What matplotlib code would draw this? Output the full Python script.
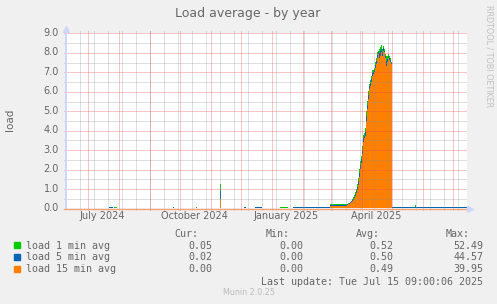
import numpy as np
import pandas as pd
import matplotlib
matplotlib.use("Agg")
import matplotlib.pyplot as plt
import matplotlib.dates as mdates
import matplotlib.transforms as mtransforms
from matplotlib.lines import Line2D

title = "Load average - by year"
ylabel = "load"
names = ["load 1 min avg", "load 5 min avg", "load 15 min avg"]
colors = ["#00CC00", "#0066B3", "#FF8000"]

t_start = pd.Timestamp("2024-06-10 09:00:06")
t_end = pd.Timestamp("2025-07-15 09:00:06")

# quiet months: each value holds until the next date
quiet_dates = ["2024-06-10", "2024-07-22", "2024-07-26", "2024-07-27", "2024-07-30",
               "2024-09-24", "2024-09-25", "2024-10-17", "2024-10-18",
               "2024-11-10 12:00", "2024-11-11 12:00", "2024-12-04", "2024-12-06",
               "2024-12-15", "2024-12-22", "2025-01-09", "2025-01-17",
               "2025-01-22", "2025-02-03", "2025-02-28"]
quiet_load1 = [0.00, 0.06, 0.00, 0.04, 0.00, 0.05, 0.00, 0.04, 0.00, 1.25,
               0.00, 0.05, 0.00, 0.06, 0.00, 0.04, 0.00, 0.05, 0.04, 0.20]
quiet_load5 = [0.00, 0.04, 0.00, 0.02, 0.00, 0.05, 0.00, 0.02, 0.00, 0.85,
               0.00, 0.06, 0.00, 0.03, 0.00, 0.02, 0.00, 0.04, 0.05, 0.17]
quiet_load15 = [0.00, 0.01, 0.00, 0.01, 0.00, 0.01, 0.00, 0.00, 0.00, 0.45,
                0.00, 0.01, 0.00, 0.01, 0.00, 0.00, 0.00, 0.01, 0.02, 0.12]

# busy period, one value per day from ramp_start
ramp_start = "2025-03-17"
ramp_load1 = [0.22, 0.25, 0.28, 0.33, 0.38, 0.45, 0.55, 0.66, 0.80, 1.00,
              1.25, 1.55, 2.00, 2.40, 2.70, 3.20, 3.75, 3.85, 4.10, 5.00,
              5.50, 6.00, 6.40, 6.60, 6.80, 7.10, 7.10, 7.20, 7.50, 7.70,
              8.00, 8.10, 8.20, 8.30, 8.40, 8.20, 8.35, 8.20, 7.90, 7.80,
              7.80, 7.90, 7.80, 7.70, 7.50]
ramp_load5 = [0.20, 0.22, 0.25, 0.29, 0.34, 0.40, 0.48, 0.57, 0.70, 0.88,
              1.10, 1.38, 1.80, 2.20, 2.50, 3.00, 3.58, 3.72, 3.90, 4.75,
              5.30, 5.80, 6.25, 6.45, 6.65, 6.95, 7.00, 7.10, 7.35, 7.55,
              7.85, 8.00, 7.95, 8.05, 8.20, 8.00, 8.22, 8.10, 7.80, 7.55,
              7.65, 7.80, 7.70, 7.60, 7.45]
ramp_load15 = [0.18, 0.20, 0.22, 0.26, 0.30, 0.35, 0.42, 0.50, 0.60, 0.78,
               0.95, 1.20, 1.60, 2.00, 2.30, 2.80, 3.40, 3.60, 3.70, 4.50,
               5.10, 5.60, 6.10, 6.30, 6.50, 6.80, 6.90, 7.00, 7.20, 7.40,
               7.70, 7.90, 7.70, 7.80, 8.00, 7.80, 8.10, 8.00, 7.70, 7.30,
               7.50, 7.70, 7.60, 7.50, 7.40]

tail_dates = ["2025-05-01", "2025-05-24", "2025-05-25"]
tail_load1 = [0.05, 0.13, 0.05]
tail_load5 = [0.03, 0.06, 0.03]
tail_load15 = [0.01, 0.02, 0.01]

cur = ["0.05", "0.02", "0.00"]
mins = ["0.00", "0.00", "0.00"]
avgs = ["0.52", "0.50", "0.49"]
maxs = ["52.49", "44.57", "39.95"]
last_update = "Last update: Tue Jul 15 09:00:06 2025"

y_major = [1, 2, 3, 4, 5, 6, 7, 8, 9]
y_minor = [0.5, 1.5, 2.5, 3.5, 4.5, 5.5, 6.5, 7.5, 8.5]
y_labels = ["0.0", "1.0", "2.0", "3.0", "4.0", "5.0", "6.0", "7.0", "8.0", "9.0"]
x_labels = ["July 2024", "October 2024", "January 2025", "April 2025"]
x_label_pos = ["2024-07-15 12:00", "2024-10-15 12:00", "2025-01-15 12:00", "2025-04-15 12:00"]

# assemble step series
ramp_dates = list(pd.date_range(ramp_start, periods=len(ramp_load1), freq="D"))
x = (list(pd.to_datetime(quiet_dates, format="mixed")) + ramp_dates
     + list(pd.to_datetime(tail_dates, format="mixed")) + [t_end])
series = [quiet_load1 + ramp_load1 + tail_load1,
          quiet_load5 + ramp_load5 + tail_load5,
          quiet_load15 + ramp_load15 + tail_load15]
series = [s + [s[-1]] for s in series]

W, H = 497, 304
font_col = "#666666"
axis_col = "#CFD6F8"
grid_col = (0.55, 0.55, 0.55, 0.28)
mgrid_col = (0.90, 0.30, 0.30, 0.32)

fig = plt.figure(figsize=(W / 100, H / 100), dpi=100, facecolor="#F0F0F0")
ax = fig.add_axes([67 / W, 96 / H, 400 / W, 175 / H], facecolor="white")
ax.set_xlim(t_start, t_end)
ax.set_ylim(0, 9)
for s in ax.spines.values():
    s.set_visible(False)
ax.set_xticks([])
ax.set_yticks([])

for vals, c in zip(series, colors):
    ax.fill_between(x, 0, vals, step="post", color=c, linewidth=0, zorder=2)

# dotted grid snapped to pixels, drawn over the areas (pixel coords)
def px_x(d):
    return ax.transData.transform((mdates.date2num(pd.Timestamp(d).to_pydatetime()), 0))[0]

def grid_h(v, col):
    yp = np.floor(ax.transData.transform((0, v))[1]) + 0.5
    fig.add_artist(Line2D([64, 467], [yp, yp], transform=None, color=col, lw=0.72,
                          dashes=(1, 1), antialiased=False, zorder=5))

def grid_v(d, col):
    xp = np.floor(px_x(d)) + 0.5
    fig.add_artist(Line2D([xp, xp], [94, 274], transform=None, color=col, lw=0.72,
                          dashes=(1, 1), antialiased=False, zorder=5))

for yv in y_minor:
    grid_h(yv, grid_col)
for yv in y_major:
    grid_h(yv, mgrid_col)
for d in pd.date_range("2024-06-23", t_end, freq="14D"):
    grid_v(d, grid_col)
for d in pd.date_range("2024-07-01", t_end, freq="MS"):
    grid_v(d, mgrid_col)

# axes with arrows
fig.add_artist(Line2D([66, 66], [96, 274], transform=None, color=axis_col, lw=1.44, zorder=6))
fig.add_artist(Line2D([66], [275], transform=None, marker="^", ms=4.5, color=axis_col, lw=0, zorder=6))
fig.add_artist(Line2D([64, 468], [95.5, 95.5], transform=None, color="#F4A070", lw=0.9, zorder=6))
fig.add_artist(Line2D([470], [95.5], transform=None, marker=">", ms=4.5, color=axis_col, lw=0, zorder=6))

blend_y = mtransforms.blended_transform_factory(ax.transAxes, ax.transData)
blend_x = mtransforms.blended_transform_factory(ax.transData, ax.transAxes)
for i, lab in enumerate(y_labels):
    ax.text(-8 / 400, i, lab, transform=blend_y, ha="right", va="center", fontsize=7, color=font_col)
for pos, lab in zip(x_label_pos, x_labels):
    ax.text(pd.Timestamp(pos), -8 / 175, lab, transform=blend_x, ha="center", va="center", fontsize=7, color=font_col)

fig.text(248 / W, 1 - 13.5 / H, title, ha="center", va="center", fontsize=9, color=font_col)
fig.text(10 / W, 1 - 120 / H, ylabel, ha="center", va="center", rotation=90, fontsize=7.5, color=font_col)
fig.text(488.5 / W, 1 - 5 / H, "RRDTOOL / TOBI OETIKER", ha="center", va="top", rotation=270,
         fontsize=5.8, color="#C0C0C0")

# legend block
mono = dict(family="DejaVu Sans Mono", fontsize=7.2, color=font_col)
def fy(y):
    return 1 - y / H
for hx, h in zip([198.3, 289.3, 380, 470], ["Cur:", "Min:", "Avg:", "Max:"]):
    fig.text(hx / W, fy(234), h, ha="right", va="center", **mono)
rows_y = [245.7, 257.3, 269.3]
for i in range(3):
    fig.patches.append(plt.Rectangle((14 / W, fy(rows_y[i] + 2.5)), 6 / W, 6 / H,
                                     transform=fig.transFigure, color=colors[i], figure=fig))
    fig.text(26 / W, fy(rows_y[i]), names[i], ha="left", va="center", **mono)
    for cx, v in zip([212.3, 303.3, 393.3, 483.3], [cur[i], mins[i], avgs[i], maxs[i]]):
        fig.text(cx / W, fy(rows_y[i]), v, ha="right", va="center", **mono)
fig.text(483.3 / W, fy(281.7), last_update, ha="right", va="center", **mono)
fig.text(249 / W, fy(292.7), "Munin 2.0.25", ha="center", va="center", fontsize=5.8, color="#BBBBBB")

fig.savefig("out.png", dpi=100, facecolor=fig.get_facecolor())
